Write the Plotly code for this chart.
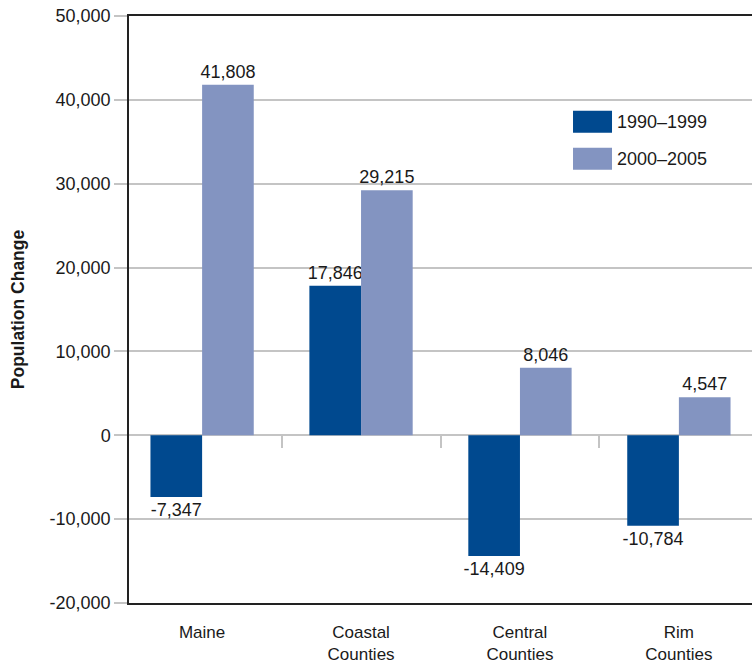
import plotly.graph_objects as go

categories = ["Maine", "Coastal<br>Counties", "Central<br>Counties", "Rim<br>Counties"]
series_names = ["1990–1999", "2000–2005"]
values_1990s = [-7347, 17846, -14409, -10784]
values_2000s = [41808, 29215, 8046, 4547]
y_ticks = [-20000, -10000, 0, 10000, 20000, 30000, 40000, 50000]

colors = ["#00498f", "#8394c1"]
FONT = "Liberation Sans, Arial, sans-serif"
GRID = "#c4c4c4"
TXT = "#1a1a1a"

def fmt(v):
    return f"{v:,}"

xpos = list(range(len(categories)))
fig = go.Figure()
for name, vals, col in zip(series_names, [values_1990s, values_2000s], colors):
    fig.add_trace(go.Bar(
        x=xpos, y=vals, name=name, marker=dict(color=col, line=dict(width=0)),
        text=[fmt(v) for v in vals], textposition="outside", cliponaxis=False,
        constraintext="none",
        textfont=dict(family=FONT, size=18, color=TXT),
        showlegend=False,
    ))

# invisible helper trace for the zero-line category ticks
fig.add_trace(go.Scatter(x=[0], y=[0], xaxis="x2", yaxis="y", mode="markers",
                         marker=dict(opacity=0), showlegend=False, hoverinfo="skip"))

xr = [-0.46, 3.46]
fig.update_layout(
    width=752, height=664,
    margin=dict(l=129, r=0, t=16, b=61, autoexpand=False),
    paper_bgcolor="white", plot_bgcolor="white",
    barmode="group", bargap=0.35, bargroupgap=0,
    uniformtext=dict(mode=False),
    font=dict(family=FONT, size=18, color=TXT),
    xaxis=dict(
        range=xr, tickmode="array", tickvals=xpos, ticktext=categories,
        showgrid=False, zeroline=False, showline=True, linecolor="#222", linewidth=1.5,
        mirror=True, ticks="", ticklabelstandoff=13, automargin=False,
        tickfont=dict(family=FONT, size=17, color=TXT),
    ),
    xaxis2=dict(
        range=xr, overlaying="x", anchor="free", position=2/7, side="bottom",
        tickmode="array", tickvals=[0.5, 1.5, 2.5], ticks="outside", ticklen=12,
        tickcolor=GRID, tickwidth=1.5, showticklabels=False, showgrid=False,
        zeroline=False, showline=False, automargin=False,
    ),
    yaxis=dict(
        range=[-20000, 50000], tickmode="array", tickvals=y_ticks,
        ticktext=[fmt(v) for v in y_ticks], automargin=False,
        showgrid=True, gridcolor=GRID, gridwidth=1.5,
        zeroline=True, zerolinecolor=GRID, zerolinewidth=1.5,
        showline=True, linecolor="#222", linewidth=1.5,
        ticks="outside", ticklen=13, tickcolor=GRID, tickwidth=1.5,
        tickfont=dict(family=FONT, size=18, color=TXT),
        title=dict(text="Population Change", standoff=20,
                   font=dict(family=FONT, size=17.5, color=TXT, weight="bold")),
    ),
)

# custom legend (large swatches)
leg_x0, leg_x1 = 0.7127, 0.7753
for i, (name, col) in enumerate(zip(series_names, colors)):
    y_top = 0.8387 - i * 0.0630
    fig.add_shape(type="rect", xref="paper", yref="paper",
                  x0=leg_x0, x1=leg_x1, y0=y_top - 0.0375, y1=y_top,
                  fillcolor=col, line=dict(width=0))
    fig.add_annotation(xref="paper", yref="paper", x=0.7833, y=y_top - 0.0187,
                       text=name, showarrow=False, xanchor="left", yanchor="middle",
                       xshift=-2, font=dict(family=FONT, size=18, color=TXT))

fig.write_html("out.html")
